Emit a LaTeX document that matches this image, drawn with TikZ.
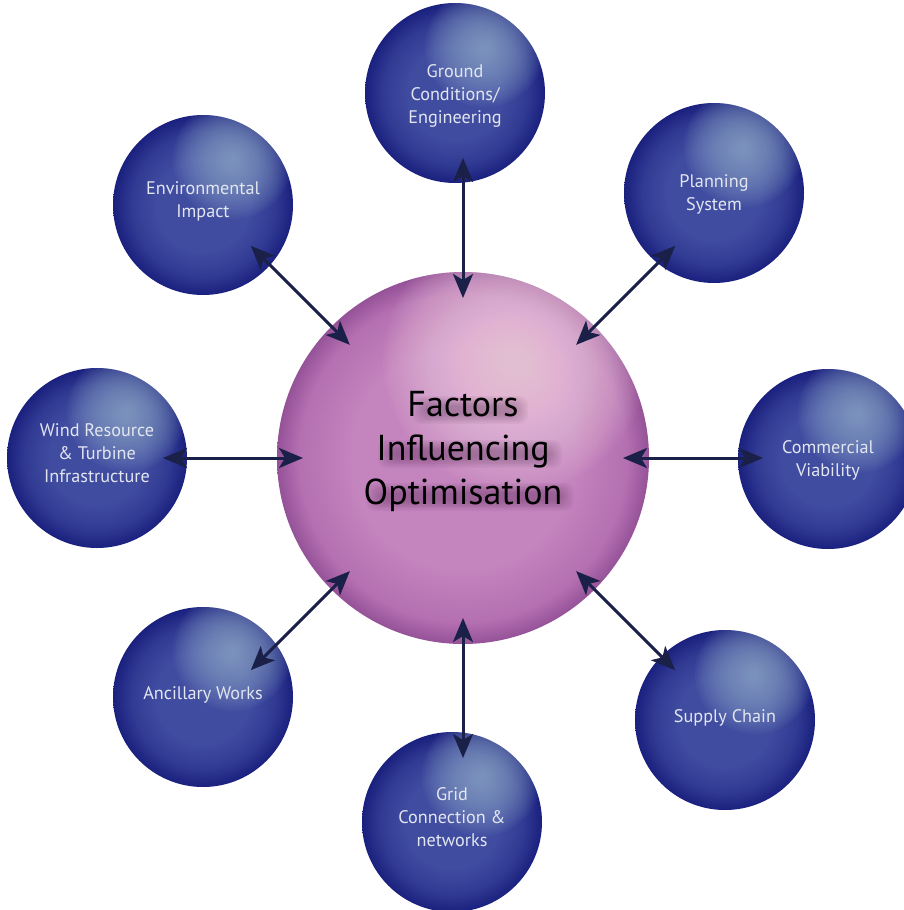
\documentclass[tikz,border=0pt]{standalone}
\usepackage{fontspec}
\setmainfont{PT Sans}
\usetikzlibrary{arrows.meta}

\definecolor{rimblue}{RGB}{26,32,126}
\definecolor{midblue}{RGB}{48,58,146}
\definecolor{bodyblue}{RGB}{64,76,160}
\definecolor{glowblue}{RGB}{150,176,206}
\definecolor{rimpurple}{RGB}{150,82,152}
\definecolor{midpurple}{RGB}{180,112,177}
\definecolor{bodypurple}{RGB}{196,132,190}
\definecolor{glowpink}{RGB}{250,216,234}
\definecolor{labelgrey}{RGB}{226,230,240}
\definecolor{arrownavy}{RGB}{26,32,72}
\definecolor{shadowplum}{RGB}{60,20,60}

% sphere bodies: flat interior, darker rim at the edge (25bp = circle radius)
\pgfdeclareradialshading{bluesphere}{\pgfpoint{0bp}{0bp}}{%
  color(0bp)=(bodyblue); color(13bp)=(bodyblue); color(20bp)=(midblue);
  color(25bp)=(rimblue); color(50bp)=(rimblue)}
\pgfdeclareradialshading{purplesphere}{\pgfpoint{0bp}{0bp}}{%
  color(0bp)=(bodypurple); color(15bp)=(bodypurple); color(22bp)=(midpurple);
  color(25bp)=(rimpurple); color(50bp)=(rimpurple)}

% a centred block of lines, raised by #1 from its nominal middle
\newcommand{\lifted}[2][0pt]{\raisebox{#1}[\height][\depth]{%
  \begin{tabular}{@{}c@{}}#2\end{tabular}}}

\begin{document}
\begin{tikzpicture}[x=1pt, y=-1pt,
  factor/.style={circle, inner sep=0pt, minimum size=180pt,
    shade, shading=bluesphere, text=labelgrey,
    font=\fontsize{18.2}{23}\selectfont,
    path picture={
      \foreach \r in {60,57.5,...,2.5}
        \fill[glowblue, opacity=0.06]
          ([shift={(30pt,46pt)}]path picture bounding box.center) circle (\r pt);}},
  corestyle/.style={circle, inner sep=0pt, minimum size=372pt,
    shade, shading=purplesphere,
    path picture={
      \foreach \r in {132,129,...,3}
        \fill[glowpink, opacity=0.04]
          ([shift={(52pt,98pt)}]path picture bounding box.center) circle (\r pt);}},
  titletext/.style={align=center, font=\fontsize{36}{44}\selectfont, inner sep=0pt},
  link/.style={arrownavy, line width=3pt,
    {Stealth[length=24pt,width=20pt,inset=6pt]}-{Stealth[length=24pt,width=20pt,inset=6pt]}}
]
\useasboundingbox (0,0) rectangle (904,910);
\fill[white] (0,0) rectangle (904,910);

% surrounding factors
\node[factor] (ground)      at (455,93)  {\lifted[-3pt]{Ground\\Conditions/\\Engineering}};
\node[factor] (planning)    at (714,193) {\lifted[-1pt]{Planning\\System}};
\node[factor] (commercial)  at (828,459) {\lifted[-1pt]{Commercial\\Viability}};
\node[factor] (supply)      at (725,720) {\lifted[2pt]{Supply Chain}};
\node[factor] (grid)        at (452,822) {\lifted[3pt]{Grid\\Connection \&\\networks}};
\node[factor] (ancillary)   at (203,697) {\lifted[2pt]{Ancillary Works}};
\node[factor] (wind)        at (97,458)  {\lifted[3pt]{Wind Resource\\\& Turbine\\Infrastructure}};
\node[factor] (environment) at (203,205) {\lifted[4pt]{Environmental\\Impact}};

% central sphere
\node[corestyle] (core) at (463,458) {};

% soft drop shadow behind the three title lines (centre x, centre y, half width)
\foreach \cx/\cy/\hw in {470/410/50, 470/454/84, 470/497/96}
  \foreach \k in {0,...,7}
    \fill[shadowplum, opacity=0.045, rounded corners=9pt]
      (\cx-\hw-8+2*\k, \cy-14+1.4*\k) rectangle (\cx+\hw+8-2*\k, \cy+14-1.4*\k);

\node[titletext] (title) at ([yshift=7pt]core.center) {Factors\\Influencing\\Optimisation};

% two-way links, radial from the centre
\foreach \ang in {0,45,...,315}
  \draw[link] ([shift={(\ang:160pt)}]core.center) -- ([shift={(\ang:300pt)}]core.center);
\end{tikzpicture}
\end{document}
